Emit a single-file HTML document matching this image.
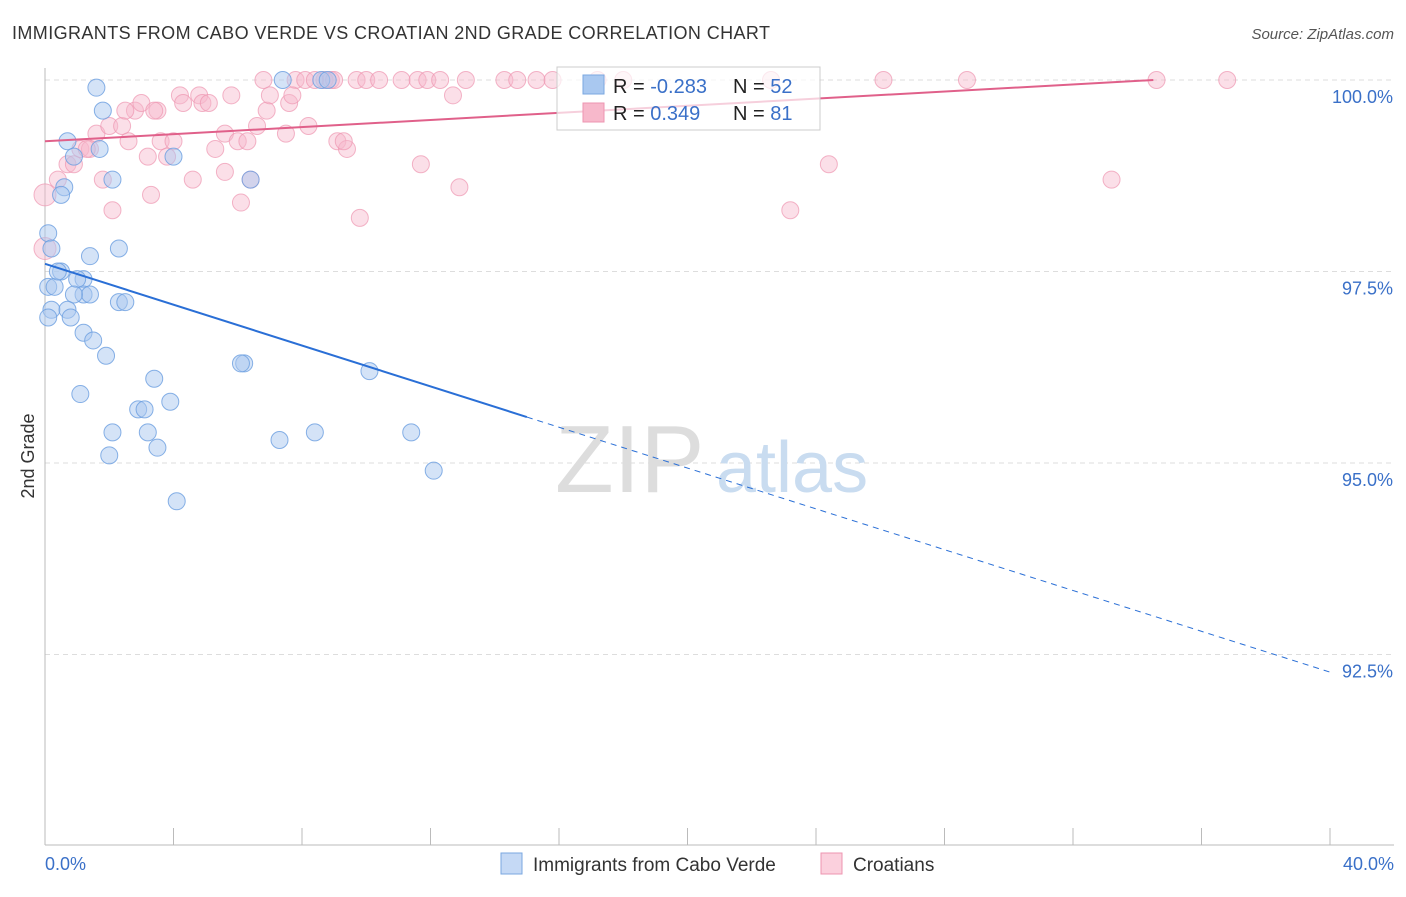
<!DOCTYPE html>
<html><head><meta charset="utf-8"><style>
body{margin:0;background:#fff;font-family:"Liberation Sans",sans-serif}
svg text{font-family:"Liberation Sans",sans-serif}
</style></head><body>
<svg width="1406" height="892" xmlns="http://www.w3.org/2000/svg">
<text x="12" y="39" font-size="18" fill="#333" textLength="758">IMMIGRANTS FROM CABO VERDE VS CROATIAN 2ND GRADE CORRELATION CHART</text>
<text x="1394" y="39" font-size="15" fill="#555" font-style="italic" text-anchor="end">Source: ZipAtlas.com</text>
<text x="34" y="456" font-size="18" fill="#333" transform="rotate(-90 34 456)" text-anchor="middle">2nd Grade</text>
<g id="grid"></g>
<g><text x="555" y="492" font-size="96" fill="#ddd" font-family="Liberation Serif">ZIP</text><text x="716" y="492" font-size="72" fill="#c9dcf0">atlas</text></g>
<g id="pts"></g>
<g id="lines"></g>
<g>
<rect x="557" y="67" width="263" height="63" fill="#fff" fill-opacity="0.7" stroke="#ccc"/>
<rect x="583" y="75" width="21" height="19" fill="#a9c8f0" stroke="#7aa7e0"/>
<rect x="583" y="103" width="21" height="19" fill="#f7b8cb" stroke="#ee95b0"/>
<text x="613" y="93" font-size="20" fill="#222">R = <tspan fill="#3a70c8">-0.283</tspan></text>
<text x="733" y="93" font-size="20" fill="#222">N = <tspan fill="#3a70c8">52</tspan></text>
<text x="613" y="120" font-size="20" fill="#222">R = <tspan fill="#3a70c8"> 0.349</tspan></text>
<text x="733" y="120" font-size="20" fill="#222">N = <tspan fill="#3a70c8"> 81</tspan></text>
</g>
<g>
<rect x="501" y="853" width="21" height="21" fill="#c5d9f5" stroke="#7aa7e0"/>
<text x="533" y="871" font-size="19" fill="#333">Immigrants from Cabo Verde</text>
<rect x="821" y="853" width="21" height="21" fill="#fbd0dd" stroke="#ee95b0"/>
<text x="853" y="871" font-size="19" fill="#333">Croatians</text>
</g>
</svg>
<script>
const yTicks=[100,97.5,95,92.5];
const yTickLabels=["100.0%","97.5%","95.0%","92.5%"];
const xTickLabels=["0.0%","40.0%"];
const blueX=[1.6,1.8,0.7,1.7,0.9,2.1,0.6,0.5,0.1,0.2,1.4,2.3,0.5,1.2,1.0,0.1,0.3,1.2,1.4,0.9,2.3,2.5,0.2,0.7,0.8,0.1,1.2,1.5,1.9,6.2,6.1,3.4,10.1,1.1,3.9,2.9,3.1,3.2,2.1,7.3,8.4,11.4,3.5,2.0,12.1,4.1,7.4,8.6,8.8,4.0,6.4,0.4];
const blueY=[99.9,99.6,99.2,99.1,99.0,98.7,98.6,98.5,98.0,97.8,97.7,97.8,97.5,97.4,97.4,97.3,97.3,97.2,97.2,97.2,97.1,97.1,97.0,97.0,96.9,96.9,96.7,96.6,96.4,96.3,96.3,96.1,96.2,95.9,95.8,95.7,95.7,95.4,95.4,95.3,95.4,95.4,95.2,95.1,94.9,94.5,100,100,100,99.0,98.7,97.5];
const pinkX=[6.8,7.8,8.7,8.9,9.7,10.0,11.1,11.6,11.9,12.3,13.1,14.3,14.7,15.3,18.0,22.6,26.1,28.7,34.6,36.8,0,0,0.4,0.7,0.9,1.1,1.4,1.6,1.8,2.0,2.1,2.4,2.6,2.8,3.0,3.2,3.3,3.5,3.6,3.8,4.0,4.2,4.3,4.6,4.8,4.9,5.1,5.3,5.6,5.8,6.0,6.1,6.3,6.6,6.9,7.0,7.5,7.6,7.7,8.1,8.2,8.4,9.1,9.4,9.8,11.7,12.7,12.9,23.2,24.4,33.2,5.6,6.4,9.0,10.4,3.4,1.3,2.5,15.8,17.2,9.3];
const pinkY=[100,100,100,100,100,100,100,100,100,100,100,100,100,100,100,100,100,100,100,100,98.5,97.8,98.7,98.9,98.9,99.1,99.1,99.3,98.7,99.4,98.3,99.4,99.2,99.6,99.7,99.0,98.5,99.6,99.2,99.0,99.2,99.8,99.7,98.7,99.8,99.7,99.7,99.1,99.3,99.8,99.2,98.4,99.2,99.4,99.6,99.8,99.3,99.7,99.8,100,99.4,100,99.2,99.1,98.2,98.9,99.8,98.6,98.3,98.9,98.7,98.8,98.7,100,100,99.6,99.1,99.6,100,100,99.2];
const xs=v=>45+v/40*1285, ys=v=>80+(100-v)*76.6;
const NS="http://www.w3.org/2000/svg";
function mk(t,a,p){const e=document.createElementNS(NS,t);for(const k in a)e.setAttribute(k,a[k]);p.appendChild(e);return e;}
const grid=document.getElementById('grid'),svg=document.querySelector('svg');
yTicks.forEach((t,i)=>{const l=mk('line',{x1:45,x2:1394,y1:ys(t),y2:ys(t),stroke:'#ddd','stroke-dasharray':'5,4'},grid);


const tx=mk('text',{x:1393,y:ys(t)+23,'font-size':18,fill:'#3a70c8','text-anchor':'end'},grid);tx.textContent=yTickLabels[i];

});
const ax=mk('line',{x1:45,x2:45,y1:68,y2:845,stroke:'#bbb'},grid);


const bx=mk('line',{x1:45,x2:1394,y1:845,y2:845,stroke:'#bbb'},grid);


for(let i=0;i<=10;i++){const t=mk('line',{x1:xs(i*4),x2:xs(i*4),y1:828,y2:845,stroke:'#bbb'},grid);

}
[[0,'start',45],[40,'end',1394]].forEach((d,i)=>{const t=mk('text',{x:d[2],y:870,'font-size':18,fill:'#3a70c8','text-anchor':d[1]},grid);t.textContent=xTickLabels[i];

});
const pts=document.getElementById('pts');
pinkX.forEach((x,i)=>{const c=mk('circle',{cx:xs(x),cy:ys(pinkY[i]),r:(x==0?11:8.5),fill:'#f7b8cb','fill-opacity':0.45,stroke:'#ee95b0','stroke-opacity':0.7},pts);

});
blueX.forEach((x,i)=>{const c=mk('circle',{cx:xs(x),cy:ys(blueY[i]),r:8.5,fill:'#a9c8f0','fill-opacity':0.5,stroke:'#6a9de0','stroke-opacity':0.8},pts);

});
const lines=document.getElementById('lines');
const bl=mk('line',{x1:xs(0),y1:ys(97.6),x2:xs(15),y2:ys(95.6),stroke:'#2a6fd6','stroke-width':2},lines);


const bd=mk('line',{x1:xs(15),y1:ys(95.6),x2:xs(40),y2:ys(92.27),stroke:'#2a6fd6','stroke-width':1,'stroke-dasharray':'6,5'},lines);


const pl=mk('line',{x1:xs(0),y1:ys(99.2),x2:xs(34.5),y2:ys(100),stroke:'#e0608a','stroke-width':2},lines);


</script>
</body></html>
